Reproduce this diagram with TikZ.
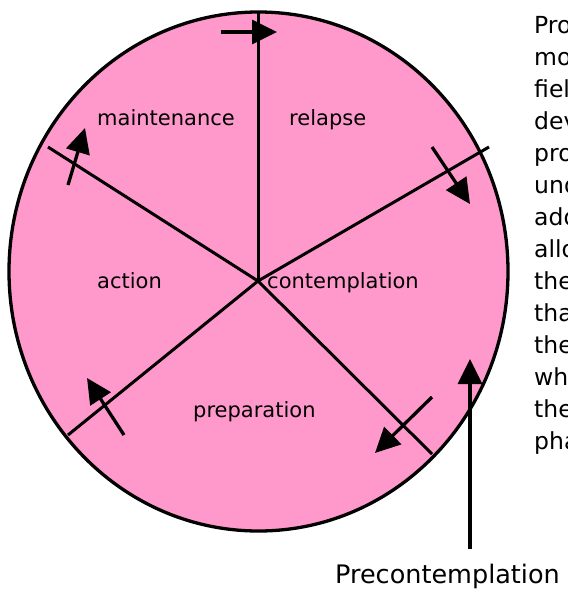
\documentclass[tikz,border=0pt]{standalone}
\usepackage{fontspec}
\setmainfont{DejaVu Sans}
\usetikzlibrary{arrows.meta}
\definecolor{wheelpink}{HTML}{FF99CC}

\begin{document}
\begin{tikzpicture}[x=1pt, y=-1pt,
    every node/.style={inner sep=0pt, anchor=base west},
    wheel/.style={fill=wheelpink, draw=black, line width=3.3pt},
    spoke/.style={line width=3pt},
    cyc/.style={line width=3.3pt, -{Triangle[length=25pt, width=24pt]}},
    lab/.style={font=\fontsize{21}{25}\selectfont},
    note/.style={font=\fontsize{23.5}{28}\selectfont}]
  \path[use as bounding box, clip] (0,0) rectangle (568,590);

  % wheel and spokes
  \draw[wheel] (258.5,271.5) ellipse [x radius=249.5pt, y radius=259.5pt];
  \coordinate (hub) at (258,281);
  \coordinate (s1) at (258,12);
  \coordinate (s2) at (489,147);
  \coordinate (s3) at (432,454);
  \coordinate (s4) at (68,435);
  \coordinate (s5) at (48,147);
  \foreach \s in {s1,s2,s3,s4,s5}
    \draw[spoke] (hub) -- (\s);

  % stage labels
  \node[lab] (maint) at (97,125) {maintenance};
  \node[lab] (relapse) at (289,125) {relapse};
  \node[lab] (action) at (97,288) {action};
  \node[lab] (contemp) at (267,288) {contemplation};
  \node[lab] (prep) at (193,417) {preparation};

  % direction of the cycle
  \coordinate (a1) at (221,32);  \coordinate (t1) at (277,32);
  \coordinate (a2) at (432,147); \coordinate (t2) at (470,204);
  \coordinate (a3) at (432,397); \coordinate (t3) at (375,453);
  \coordinate (a4) at (124,435); \coordinate (t4) at (87,378);
  \coordinate (a5) at (68,185);  \coordinate (t5) at (85,128);
  \foreach \i in {1,...,5}
    \draw[cyc] (a\i) -- (t\i);

  % entry point
  \node[font=\fontsize{25.5}{30}\selectfont] (pre) at (335,583) {Precontemplation};
  \coordinate (pretip) at (470,359);
  \draw[cyc, shorten <=14pt] (pre.north -| pretip) -- (pretip);

  % side text, cut off at the edge
  \foreach \w [count=\i] in {Pro,mo,fiel,dev,pro,und,add,allo,the,tha,the,wh,the,pha}
    \node[note] (note\i) at (534,1+32*\i) {\w};
\end{tikzpicture}
\end{document}
